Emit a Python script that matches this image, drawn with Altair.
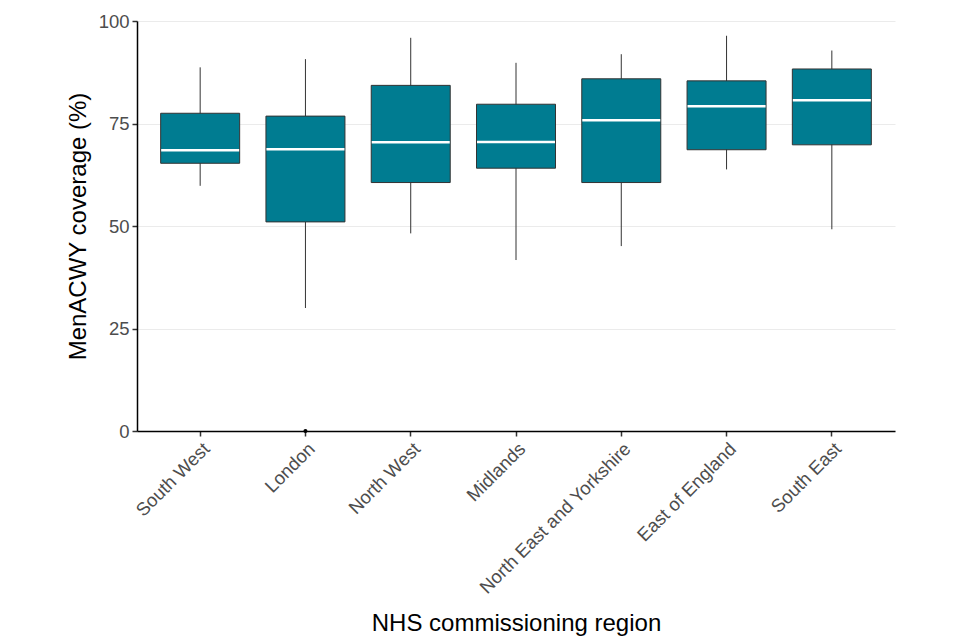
import altair as alt
import pandas as pd

regions = ["South West", "London", "North West", "Midlands",
           "North East and Yorkshire", "East of England", "South East"]
whisker_low = [59.8, 30.0, 48.2, 41.7, 45.1, 63.8, 49.2]
q1 = [65.3, 51.0, 60.6, 64.1, 60.6, 68.6, 69.8]
median = [68.5, 68.7, 70.4, 70.5, 75.8, 79.2, 80.7]
q3 = [77.5, 76.8, 84.3, 79.7, 85.9, 85.4, 88.3]
whisker_high = [88.7, 90.7, 95.9, 89.8, 91.9, 96.4, 92.8]

outlier_region = ["London"]
outlier_value = [0.0]

df = pd.DataFrame({"region": regions, "lo": whisker_low, "q1": q1,
                   "med": median, "q3": q3, "hi": whisker_high})
odf = pd.DataFrame({"region": outlier_region, "value": outlier_value})

FONT = "Liberation Sans"
xscale = alt.Scale(domain=regions, paddingInner=0, paddingOuter=0.1)
xenc = alt.X("region:N", scale=xscale, sort=regions,
             axis=alt.Axis(title="NHS commissioning region", labelAngle=-45,
                           labelAlign="right", labelBaseline="top", labelLimit=0,
                           labelFontSize=18.5, labelColor="#4d4d4d", labelFont=FONT,
                           titleFont=FONT, titleFontSize=24, titleFontWeight="normal",
                           titleColor="#000000", titleY=199, titleBaseline="alphabetic",
                           domainColor="#000000", domainWidth=1.5,
                           tickColor="#333333", tickSize=5, tickWidth=1.5,
                           labelPadding=3, grid=False))
yscale = alt.Scale(domain=[0, 100], nice=False, zero=True)
yaxis = alt.Axis(title="MenACWY coverage (%)", values=[0, 25, 50, 75, 100],
                 labelFontSize=18.5, labelColor="#4d4d4d", labelFont=FONT,
                 titleFont=FONT, titleFontSize=24, titleFontWeight="normal",
                 titleColor="#000000", titleX=-52, titleBaseline="alphabetic",
                 domainColor="#000000", domainWidth=1.5,
                 tickColor="#333333", tickSize=5, tickWidth=1.5,
                 gridColor="#ebebeb", gridWidth=1, labelPadding=3)

base = alt.Chart(df)

whisk = base.mark_rule(color="#333333", strokeWidth=1).encode(
    x=xenc,
    y=alt.Y("lo:Q", scale=yscale, axis=yaxis),
    y2="hi:Q",
)
box = base.mark_bar(size=79, color="#007C91", stroke="#333333", strokeWidth=1).encode(
    x=alt.X("region:N", scale=xscale, sort=regions),
    y=alt.Y("q1:Q", scale=yscale),
    y2="q3:Q",
)
med = base.mark_tick(size=78, thickness=2.5, color="#ffffff", opacity=1).encode(
    x=alt.X("region:N", scale=xscale, sort=regions),
    y=alt.Y("med:Q", scale=yscale),
)
out = alt.Chart(odf).mark_circle(size=16, color="#000000", opacity=1).encode(
    x=alt.X("region:N", scale=xscale, sort=regions),
    y=alt.Y("value:Q", scale=yscale),
)

chart = alt.layer(whisk, box, med, out).properties(
    width=758, height=410,
    autosize=alt.AutoSizeParams(type="none"),
    padding={"left": 129, "top": 13, "right": 57, "bottom": 207},
).configure_view(stroke=None).configure_axis(gridDash=[])

chart.save("out.html", embed_options={"renderer": "svg", "actions": False})
